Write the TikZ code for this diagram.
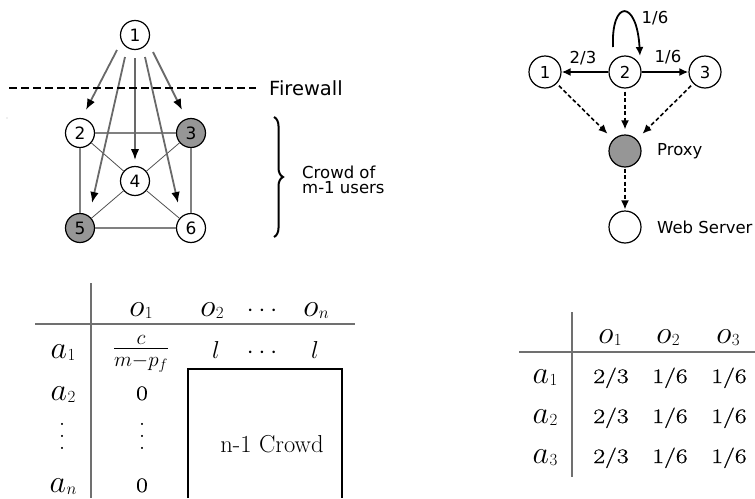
\RequirePackage{fix-cm}
\documentclass[tikz,border=0pt]{standalone}
\usepackage{graphicx}
\usepackage{fontspec}
\newfontfamily\graphfont{DejaVu Sans}
\newfontfamily\numfont[FakeBold=0.6]{Latin Modern Roman}
\usetikzlibrary{arrows.meta,decorations.pathreplacing}
\definecolor{nodegray}{RGB}{150,150,150}
\definecolor{feedgray}{RGB}{105,105,105}
\definecolor{ringgray}{RGB}{128,128,128}
\definecolor{spokegray}{RGB}{80,80,80}
\definecolor{rulegray}{RGB}{112,112,112}
% table entries: italic letter with a lowered index, widened numbers, spread dots
\newcommand\mlet[2]{{\fontsize{32}{32}\selectfont$#1$}\kern0.5pt\raisebox{-2pt}{\fontsize{17}{17}\selectfont$#2$}}
\newcommand\mnum[1]{\scalebox{1.25}[1]{\numfont\fontsize{20.5}{24}\selectfont #1}}
\newcommand\mell{{\fontsize{24.5}{24.5}\selectfont$l$}}
\newcommand\hdots{{\fontsize{24.5}{24.5}\selectfont$\cdotp$\hspace{5pt}$\cdotp$\hspace{5pt}$\cdotp$}}
\tikzset{
  peer/.style={circle,draw,line width=1.2pt,minimum size=29pt,inner sep=0pt,fill=white,
    font=\graphfont\fontsize{17}{17}\selectfont},
  corrupt/.style={peer,fill=nodegray},
  feed/.style={draw=feedgray,line width=1.8pt,-{Latex[length=11pt,width=8.5pt,color=black]}},
  ring/.style={draw=ringgray,line width=1.4pt},
  spoke/.style={draw=spokegray,line width=0.8pt},
  firewall/.style={line width=2.2pt,dash pattern=on 8pt off 4pt},
  crowdbrace/.style={decorate,decoration={brace,amplitude=9pt},line width=2pt},
  gtext/.style={inner sep=0pt,font=\graphfont\fontsize{16.5}{15}\selectfont},
  rnode/.style={circle,draw,line width=1.2pt,minimum size=32pt,inner sep=0pt,fill=white,
    font=\graphfont\fontsize{16.5}{16.5}\selectfont},
  hop/.style={line width=1.8pt,-{Latex[length=9pt,width=8pt]}},
  relay/.style={line width=1.6pt,dash pattern=on 4pt off 2.5pt,-{Latex[length=9pt,width=8pt]}},
  tab/.style={anchor=base,inner sep=0pt,font=\fontsize{24.5}{29}\selectfont},
  dotmark/.style={anchor=base,inner sep=0pt,font=\fontsize{26}{26}\selectfont},
  rule/.style={draw=rulegray,line width=1.5pt},
  boxline/.style={draw,line width=1.1pt}
}
\begin{document}
\begin{tikzpicture}[x=1pt,y=-1pt]
\useasboundingbox (0,0) rectangle (755,498);

% ---------------- Crowds with a firewall ----------------
\node[peer]    (n1) at (135,35)  {1};
\node[peer]    (n2) at (80,133)  {2};
\node[corrupt] (n3) at (191,133) {3};
\node[peer]    (n4) at (135,181) {4};
\node[corrupt] (n5) at (80,228)  {5};
\node[peer]    (n6) at (191,228) {6};

\draw[ring] (n2) -- (n3);
\draw[ring] (n2) -- (n5);
\draw[ring] (n3) -- (n6);
\draw[ring] (n5) -- (n6);
\draw[spoke] (n2) -- (n4);
\draw[spoke] (n3) -- (n4);
\draw[spoke] (n4) -- (n5);
\draw[spoke] (n4) -- (n6);

% requests leaving the initiator
\coordinate (s2) at (117,50);  \coordinate (t2) at (86,110);
\coordinate (s5) at (125,57);  \coordinate (t5) at (92,203);
\coordinate (s4) at (135,58);  \coordinate (t4) at (135,160);
\coordinate (s6) at (145,57);  \coordinate (t6) at (178,203);
\coordinate (s3) at (153,52);  \coordinate (t3) at (182,110);
\draw[feed] (s2) -- (t2);
\draw[feed] (s5) -- (t5);
\draw[feed] (s4) -- (t4);
\draw[feed] (s6) -- (t6);
\draw[feed] (s3) -- (t3);

\coordinate (fwL) at (9,88);
\coordinate (fwR) at (256,88);
\draw[firewall] (fwL) -- (fwR);
\node[anchor=west,inner sep=0pt,font=\graphfont\fontsize{19.5}{19.5}\selectfont] (fw) at (269,88) {Firewall};

\coordinate (brT) at (274,117);
\coordinate (brB) at (274,237);
\draw[crowdbrace] (brT) -- (brB);
\node[gtext,anchor=west,align=left] (crowd) at (302,180) {Crowd of\\m-1 users};

\fill[gray!55] (7,118) circle (0.6pt);

% ---------------- Crowds with a proxy ----------------
\node[rnode] (r1) at (545,72) {1};
\node[rnode] (r2) at (625,72) {2};
\node[rnode] (r3) at (705,72) {3};
\node[rnode,fill=nodegray] (proxy) at (625,151) {};
\node[rnode] (web) at (625,227) {};
\node[gtext,anchor=west] (lproxy) at (657,151) {Proxy};
\node[gtext,anchor=west] (lweb) at (657,227) {Web Server};

\draw[hop] (r2) -- (r1);
\draw[hop] (r2) -- (r3);
\coordinate (loopS) at (613,47);
\coordinate (loopE) at (640,56);
\draw[hop] (loopS) .. controls (611,-1) and (637,-1) .. (loopE);
\node[gtext] (p21) at (583,58) {2/3};
\node[gtext] (p23) at (668,57) {1/6};
\node[gtext] (p22) at (655,18) {1/6};

\draw[relay,shorten <=3pt,shorten >=8pt] (r1) -- (proxy);
\draw[relay,shorten <=3pt,shorten >=5pt] (r2) -- (proxy);
\draw[relay,shorten <=3pt,shorten >=8pt] (r3) -- (proxy);
\draw[relay,shorten <=1pt,shorten >=1pt] (proxy) -- (web);

% ---------------- left matrix ----------------
\coordinate (lvT) at (91,283);  \coordinate (lvB) at (91,498);
\coordinate (lhL) at (35,324);  \coordinate (lhR) at (355,324);
\draw[rule] (lvT) -- (lvB);
\draw[rule] (lhL) -- (lhR);

\node[tab] (Lo1) at (141,316) {\mlet{o}{1}};
\node[tab] (Lo2) at (212,316) {\mlet{o}{2}};
\node[tab] (Loc) at (262,316) {\hdots};
\node[tab] (Lon) at (316,316) {\mlet{o}{n}};

\node[tab] (La1) at (63,358) {\mlet{a}{1}};
\node[tab,font=\fontsize{30}{30}\selectfont] (Lf) at (141,356) {$\frac{c}{m-p_f}$};
\node[tab] (Ll1) at (216,358) {\mell};
\node[tab] (Llc) at (262,358) {\hdots};
\node[tab] (Ll2) at (315,358) {\mell};

\node[tab] (La2) at (63,400) {\mlet{a}{2}};
\node[tab] (L02) at (142,400) {\mnum{0}};
\foreach \k/\y in {1/425,2/437,3/449}{
  \node[dotmark] (Lva\k) at (62,\y) {.};
  \node[dotmark] (Lvb\k) at (142,\y) {.};
}
\node[tab] (Lan) at (63,492) {\mlet{a}{n}};
\node[tab] (L0n) at (142,492) {\mnum{0}};

\coordinate (bxBL) at (188,498); \coordinate (bxTL) at (188,369);
\coordinate (bxTR) at (342,369); \coordinate (bxBR) at (342,498);
\draw[boxline] (bxBL) -- (bxTL) -- (bxTR) -- (bxBR);
\node[tab] (crowdbox) at (272,452) {n-1 Crowd};

% ---------------- right matrix ----------------
\coordinate (rvT) at (572,312); \coordinate (rvB) at (572,477);
\coordinate (rhL) at (519,352); \coordinate (rhR) at (755,352);
\draw[rule] (rvT) -- (rvB);
\draw[rule] (rhL) -- (rhR);

\node[tab] (Ro1) at (610,343) {\mlet{o}{1}};
\node[tab] (Ro2) at (668,343) {\mlet{o}{2}};
\node[tab] (Ro3) at (728,343) {\mlet{o}{3}};
\foreach \r/\y in {1/383,2/423,3/463}{
  \node[tab] (Ra\r) at (545,\y) {\mlet{a}{\r}};
  \node[tab] (Rp\r x) at (611,\y) {\mnum{2/3}};
  \node[tab] (Rp\r y) at (670,\y) {\mnum{1/6}};
  \node[tab] (Rp\r z) at (729,\y) {\mnum{1/6}};
}
\end{tikzpicture}
\end{document}
